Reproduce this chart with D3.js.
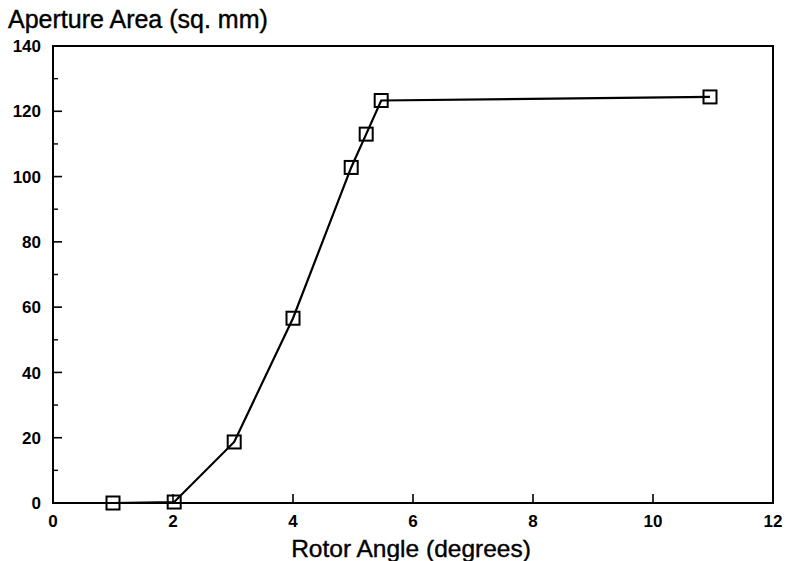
<!DOCTYPE html>
<html>
<head>
<meta charset="utf-8">
<script src="https://cdn.jsdelivr.net/npm/d3@7"></script>
<style>
  html, body { margin: 0; padding: 0; background: #fff; }
  svg { display: block; }
  text { font-family: "Liberation Sans", Arial, sans-serif; fill: #000; }
</style>
</head>
<body>
<svg id="chart" width="786" height="561"></svg>
<script>
// Rotor angle (degrees) vs aperture area (sq. mm)
const rotorAngle   = [1.0, 2.02, 3.02, 4.0, 4.97, 5.22, 5.47, 10.95];
const apertureArea = [0.0, 0.3, 18.7, 56.6, 102.8, 113.0, 123.3, 124.4];

const xTicks = [0, 2, 4, 6, 8, 10, 12];
const yTicks = [0, 20, 40, 60, 80, 100, 120, 140];
const yMinorTicks = [10, 30, 50, 70, 90, 110, 130];

const xTitle = "Rotor Angle (degrees)";
const yTitle = "Aperture Area (sq. mm)";

const svg = d3.select("#chart");
const m = { left: 53, right: 773, top: 46, bottom: 503 };

const x = d3.scaleLinear().domain([0, 12]).range([m.left, m.right]);
const y = d3.scaleLinear().domain([0, 140]).range([m.bottom, m.top]);

// frame
svg.append("rect")
  .attr("x", m.left).attr("y", m.top)
  .attr("width", m.right - m.left).attr("height", m.bottom - m.top)
  .attr("fill", "none").attr("stroke", "#000").attr("stroke-width", 2);

// left axis: inward ticks, labels on the outside
const yAxis = svg.append("g").attr("transform", `translate(${m.left},0)`);
yAxis.selectAll("line.major").data(yTicks).join("line")
  .attr("x1", 0).attr("x2", 9)
  .attr("y1", d => y(d)).attr("y2", d => y(d))
  .attr("stroke", "#000").attr("stroke-width", 1.6);
yAxis.selectAll("line.minor").data(yMinorTicks).join("line")
  .attr("x1", 0).attr("x2", 5)
  .attr("y1", d => y(d)).attr("y2", d => y(d))
  .attr("stroke", "#000").attr("stroke-width", 1.4);
yAxis.selectAll("text").data(yTicks).join("text")
  .attr("x", -12).attr("y", d => y(d)).attr("dy", "0.36em")
  .attr("text-anchor", "end")
  .attr("font-size", 17).attr("font-weight", "bold")
  .text(d => d);

// bottom axis: inward ticks
const xAxis = svg.append("g").attr("transform", `translate(0,${m.bottom})`);
xAxis.selectAll("line").data(xTicks.slice(1, -1)).join("line")
  .attr("x1", d => x(d)).attr("x2", d => x(d))
  .attr("y1", 0).attr("y2", -9)
  .attr("stroke", "#000").attr("stroke-width", 1.6);
xAxis.selectAll("text").data(xTicks).join("text")
  .attr("x", d => x(d)).attr("y", 24)
  .attr("text-anchor", "middle")
  .attr("font-size", 17).attr("font-weight", "bold")
  .text(d => d);

// titles
svg.append("text")
  .attr("x", 8).attr("y", 28)
  .attr("font-size", 25)
  .attr("stroke", "#000").attr("stroke-width", 0.4)
  .text(yTitle);
svg.append("text")
  .attr("x", 411).attr("y", 557)
  .attr("text-anchor", "middle")
  .attr("font-size", 24.5)
  .attr("stroke", "#000").attr("stroke-width", 0.4)
  .text(xTitle);

// data line
const pts = rotorAngle.map((a, i) => [a, apertureArea[i]]);
svg.append("path")
  .datum(pts)
  .attr("fill", "none").attr("stroke", "#000").attr("stroke-width", 2.2)
  .attr("d", d3.line().x(d => x(d[0])).y(d => y(d[1])));

// square markers (hollow, line visible through them)
const s = 13;
svg.selectAll("rect.pt").data(pts).join("rect")
  .attr("class", "pt")
  .attr("x", d => x(d[0]) - s / 2).attr("y", d => y(d[1]) - s / 2)
  .attr("width", s).attr("height", s)
  .attr("fill", "none").attr("stroke", "#000").attr("stroke-width", 2);
</script>
</body>
</html>
